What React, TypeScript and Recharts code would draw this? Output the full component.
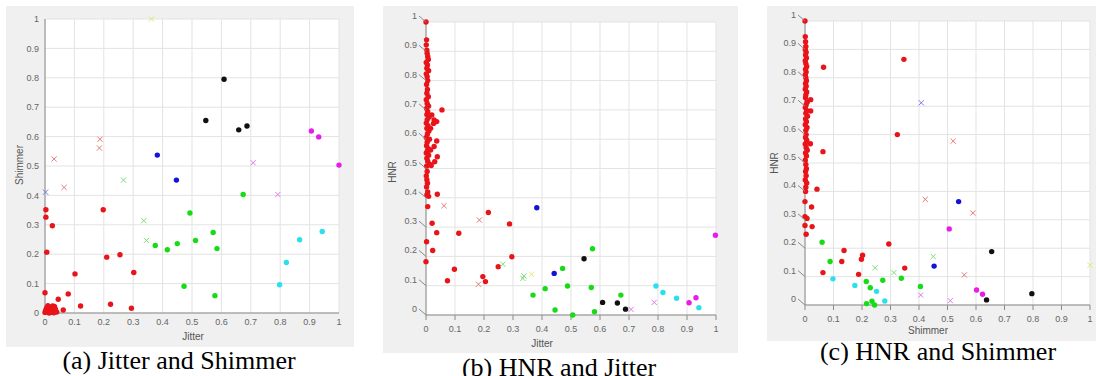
import React from 'react';
import { ScatterChart, Scatter, XAxis, YAxis, CartesianGrid } from 'recharts';

type Pt = [number, number];

// shared tick values for every axis
const axisTicks = [0, 0.1, 0.2, 0.3, 0.4, 0.5, 0.6, 0.7, 0.8, 0.9, 1];

// ---- (a) Jitter (x) vs Shimmer (y)
const aRedDots: Pt[] = [
  [0.003, 0.351], [0.003, 0.326], [0.025, 0.297], [0.006, 0.207], [0, 0.069], [0.102, 0.133],
  [0.079, 0.065], [0.045, 0.047], [0.121, 0.024], [0.223, 0.03], [0.062, 0.01], [0.198, 0.351],
  [0.21, 0.19], [0.255, 0.198], [0.302, 0.138], [0.294, 0.016],
  [0, 0.002], [0.004, 0.012], [0.008, 0.004], [0.012, 0.02], [0.016, 0.008], [0.02, 0.002],
  [0.024, 0.014], [0.028, 0.006], [0.032, 0.022], [0.036, 0.01], [0.04, 0.003], [0.01, 0.025],
  [0.006, 0.018], [0.018, 0.016], [0.03, 0.001], [0.002, 0.008], [0.014, 0], [0.026, 0.024],
  [0.034, 0.016], [0.022, 0.009],
];
const aRedX: Pt[] = [[0.031, 0.524], [0.065, 0.427], [0.185, 0.561], [0.187, 0.591]];
const aBlueX: Pt[] = [[0.002, 0.411]];
const aYellowX: Pt[] = [[0.362, 1.0]];
const aGreenX: Pt[] = [[0.267, 0.452], [0.336, 0.314], [0.345, 0.247]];
const aGreenDots: Pt[] = [
  [0.375, 0.23], [0.416, 0.215], [0.45, 0.236], [0.493, 0.34], [0.512, 0.247],
  [0.473, 0.091], [0.572, 0.274], [0.585, 0.219], [0.578, 0.059], [0.674, 0.403],
];
const aBlueDots: Pt[] = [[0.382, 0.537], [0.447, 0.452]];
const aBlackDots: Pt[] = [[0.547, 0.655], [0.609, 0.795], [0.659, 0.623], [0.687, 0.636]];
const aMagentaX: Pt[] = [[0.708, 0.511], [0.792, 0.403]];
const aMagentaDots: Pt[] = [[0.906, 0.619], [0.931, 0.599], [1.0, 0.503]];
const aCyanDots: Pt[] = [[0.798, 0.096], [0.821, 0.172], [0.866, 0.249], [0.943, 0.277]];

// ---- (b) Jitter (x) vs HNR (y)
const bRedDots: Pt[] = [
  [0, 1.0], [0.002, 0.939], [0.001, 0.922], [0.003, 0.904], [0.004, 0.893], [0.006, 0.882],
  [0.008, 0.872], [0.001, 0.862], [0.005, 0.853], [0.003, 0.842], [0.009, 0.834], [0.001, 0.823],
  [0.004, 0.813], [0.006, 0.8], [0.002, 0.787], [0.005, 0.77], [0.003, 0.757], [0.008, 0.745],
  [0.001, 0.735], [0.004, 0.722], [0.009, 0.713], [0.002, 0.705], [0.006, 0.694], [0.003, 0.684],
  [0.011, 0.676], [0.004, 0.666], [0.001, 0.655], [0.007, 0.646], [0.003, 0.637], [0.01, 0.628],
  [0.005, 0.618], [0.001, 0.606], [0.012, 0.6], [0.004, 0.59], [0.002, 0.578], [0.008, 0.568],
  [0.005, 0.56], [0.001, 0.553], [0.009, 0.545], [0.003, 0.535], [0.006, 0.525], [0.013, 0.515],
  [0.002, 0.508], [0.004, 0.49], [0.001, 0.475], [0.003, 0.462], [0.005, 0.45], [0.002, 0.437],
  [0.006, 0.42], [0.003, 0.41], [0.009, 0.405],
  [0.055, 0.7], [0.02, 0.683], [0.028, 0.666], [0.037, 0.66], [0.026, 0.654], [0.016, 0.637],
  [0.037, 0.594], [0.028, 0.575], [0.016, 0.563], [0.039, 0.54], [0.03, 0.523], [0.018, 0.51],
  [0.039, 0.412], [0.006, 0.37], [0.021, 0.313], [0.037, 0.281], [0.002, 0.25], [0.023, 0.22],
  [0, 0.182], [0.113, 0.279], [0.215, 0.35], [0.288, 0.311], [0.296, 0.199], [0.249, 0.165],
  [0.098, 0.156], [0.074, 0.117], [0.196, 0.131], [0.205, 0.114],
];
const bRedX: Pt[] = [[0.062, 0.373], [0.184, 0.324], [0.181, 0.105]];
const bGreenX: Pt[] = [[0.265, 0.173], [0.334, 0.125], [0.338, 0.133]];
const bYellowX: Pt[] = [[0.364, 0.139]];
const bBlueDots: Pt[] = [[0.382, 0.366], [0.442, 0.142]];
const bGreenDots: Pt[] = [
  [0.369, 0.068], [0.411, 0.09], [0.445, 0.017], [0.471, 0.159], [0.488, 0.099],
  [0.506, 0.0], [0.57, 0.094], [0.574, 0.226], [0.581, 0.011], [0.672, 0.068],
];
const bBlackDots: Pt[] = [[0.545, 0.192], [0.609, 0.043], [0.66, 0.041], [0.688, 0.02]];
const bMagentaX: Pt[] = [[0.707, 0.019], [0.787, 0.043]];
const bCyanDots: Pt[] = [[0.793, 0.099], [0.817, 0.077], [0.864, 0.057], [0.941, 0.025]];
const bMagentaDots: Pt[] = [[0.907, 0.042], [0.931, 0.059], [0.998, 0.272]];

// ---- (c) Shimmer (x) vs HNR (y)
const cRedDots: Pt[] = [
  [0, 1.0], [0.001, 0.945], [0.002, 0.927], [0.003, 0.91], [0.001, 0.9], [0.004, 0.89],
  [0.002, 0.88], [0.005, 0.87], [0.001, 0.86], [0.003, 0.85], [0.006, 0.84], [0.002, 0.83],
  [0.004, 0.82], [0.001, 0.81], [0.003, 0.8], [0.005, 0.79], [0.002, 0.78], [0.004, 0.77],
  [0.001, 0.76], [0.006, 0.75], [0.003, 0.74], [0.002, 0.73], [0.008, 0.715], [0.004, 0.705],
  [0.001, 0.695], [0.006, 0.685], [0.003, 0.675], [0.009, 0.665], [0.002, 0.655], [0.005, 0.645],
  [0.001, 0.635], [0.007, 0.625], [0.003, 0.615], [0.004, 0.6], [0.002, 0.59], [0.006, 0.58],
  [0.001, 0.567], [0.004, 0.555], [0.008, 0.545], [0.002, 0.535], [0.005, 0.525], [0.001, 0.51],
  [0.003, 0.495], [0.005, 0.48], [0.002, 0.47], [0.004, 0.455], [0.001, 0.44], [0.006, 0.43],
  [0.003, 0.415], [0.002, 0.4],
  [0.347, 0.865], [0.065, 0.837], [0.324, 0.6], [0.063, 0.54], [0.02, 0.723], [0.02, 0.683],
  [0.019, 0.568], [0.042, 0.408], [0, 0.364], [0.023, 0.345], [0, 0.311], [0.007, 0.305],
  [0.025, 0.276], [0, 0.28], [0.004, 0.249], [0.294, 0.215], [0.137, 0.192], [0.129, 0.153],
  [0.202, 0.175], [0.198, 0.161], [0.188, 0.108], [0.063, 0.114], [0.35, 0.13],
];
const cGreenDots: Pt[] = [
  [0.06, 0.221], [0.088, 0.153], [0.215, 0.083], [0.229, 0.061], [0.273, 0.087],
  [0.338, 0.094], [0.405, 0.065], [0.216, 0.005], [0.235, 0.013], [0.244, 0],
];
const cCyanDots: Pt[] = [[0.098, 0.092], [0.175, 0.069], [0.251, 0.048], [0.28, 0.014]];
const cGreenX: Pt[] = [[0.246, 0.131], [0.312, 0.114], [0.45, 0.171]];
const cBlueX: Pt[] = [[0.408, 0.712]];
const cRedX: Pt[] = [[0.52, 0.577], [0.422, 0.372], [0.589, 0.324], [0.559, 0.106]];
const cBlueDots: Pt[] = [[0.539, 0.364], [0.453, 0.137]];
const cMagentaDots: Pt[] = [[0.506, 0.268], [0.602, 0.053], [0.623, 0.038]];
const cMagentaX: Pt[] = [[0.406, 0.035], [0.51, 0.015]];
const cBlackDots: Pt[] = [[0.655, 0.188], [0.637, 0.018], [0.796, 0.04]];
const cYellowX: Pt[] = [[1.0, 0.14]];

const RED = '#e8141a';
const GREEN = '#16dc16';
const BLUE = '#1414d8';
const BLACK = '#101010';
const MAGENTA = '#e81ce8';
const CYAN = '#2ae0ee';
const RED_X = '#e47a7a';
const GREEN_X = '#7ade7a';
const BLUE_X = '#7a7ae0';
const MAGENTA_X = '#e07ae6';
const YELLOW_X = '#e6e672';

type Kind = 'dot' | 'x';
interface Series { pts: Pt[]; color: string; kind: Kind }

const seriesA: Series[] = [
  { pts: aRedDots, color: RED, kind: 'dot' },
  { pts: aRedX, color: RED_X, kind: 'x' },
  { pts: aBlueX, color: BLUE_X, kind: 'x' },
  { pts: aYellowX, color: YELLOW_X, kind: 'x' },
  { pts: aGreenX, color: GREEN_X, kind: 'x' },
  { pts: aGreenDots, color: GREEN, kind: 'dot' },
  { pts: aBlueDots, color: BLUE, kind: 'dot' },
  { pts: aBlackDots, color: BLACK, kind: 'dot' },
  { pts: aMagentaX, color: MAGENTA_X, kind: 'x' },
  { pts: aMagentaDots, color: MAGENTA, kind: 'dot' },
  { pts: aCyanDots, color: CYAN, kind: 'dot' },
];
const seriesB: Series[] = [
  { pts: bRedDots, color: RED, kind: 'dot' },
  { pts: bRedX, color: RED_X, kind: 'x' },
  { pts: bGreenX, color: GREEN_X, kind: 'x' },
  { pts: bYellowX, color: YELLOW_X, kind: 'x' },
  { pts: bBlueDots, color: BLUE, kind: 'dot' },
  { pts: bGreenDots, color: GREEN, kind: 'dot' },
  { pts: bBlackDots, color: BLACK, kind: 'dot' },
  { pts: bMagentaX, color: MAGENTA_X, kind: 'x' },
  { pts: bCyanDots, color: CYAN, kind: 'dot' },
  { pts: bMagentaDots, color: MAGENTA, kind: 'dot' },
];
const seriesC: Series[] = [
  { pts: cRedDots, color: RED, kind: 'dot' },
  { pts: cGreenDots, color: GREEN, kind: 'dot' },
  { pts: cCyanDots, color: CYAN, kind: 'dot' },
  { pts: cGreenX, color: GREEN_X, kind: 'x' },
  { pts: cBlueX, color: BLUE_X, kind: 'x' },
  { pts: cRedX, color: RED_X, kind: 'x' },
  { pts: cBlueDots, color: BLUE, kind: 'dot' },
  { pts: cMagentaDots, color: MAGENTA, kind: 'dot' },
  { pts: cMagentaX, color: MAGENTA_X, kind: 'x' },
  { pts: cBlackDots, color: BLACK, kind: 'dot' },
  { pts: cYellowX, color: YELLOW_X, kind: 'x' },
];

const fmt = (v: number) => String(Number(v.toFixed(1)));
const tickFont = { fontSize: 9, fill: '#666', fontFamily: 'Liberation Sans, Arial, sans-serif' };

const makeShape = (color: string, kind: Kind) => (p: any) => {
  const { cx, cy } = p;
  if (kind === 'dot') return <circle cx={cx} cy={cy} r={2.7} fill={color} />;
  const s = 2.6;
  return (
    <path
      d={`M${cx - s},${cy - s}L${cx + s},${cy + s}M${cx - s},${cy + s}L${cx + s},${cy - s}`}
      stroke={color}
      strokeWidth={1}
      fill="none"
    />
  );
};

// y tick drawn like the tilted 3-D axis in (b) and (c)
const SlantTick = (p: any) => {
  const { x, y, payload } = p;
  return (
    <g>
      <line x1={x - 7} y1={y - 6} x2={x} y2={y} stroke="#8a8a8a" strokeWidth={1} />
      <text x={x - 9} y={y - 6} textAnchor="end" dominantBaseline="central" {...tickFont}>
        {fmt(payload.value)}
      </text>
    </g>
  );
};

interface PanelProps {
  left: number;
  top: number;
  width: number;
  height: number;
  margin: { top: number; right: number; bottom: number; left: number };
  series: Series[];
  slanted: boolean;
}

const Panel: React.FC<PanelProps> = ({ left, top, width, height, margin, series, slanted }) => (
  <div style={{ position: 'absolute', left, top, width, height, background: '#f0f0f0' }}>
    <ScatterChart width={width} height={height} margin={margin}>
      <CartesianGrid stroke="#e3e3e3" fill="#ffffff" />
      <XAxis
        type="number"
        dataKey="x"
        domain={[0, 1]}
        ticks={axisTicks}
        height={30}
        tickFormatter={fmt}
        tick={tickFont}
        tickSize={slanted ? 5 : 0}
        tickMargin={6}
        tickLine={slanted ? { stroke: '#8a8a8a' } : false}
        axisLine={{ stroke: '#8a8a8a' }}
      />
      <YAxis
        type="number"
        dataKey="y"
        domain={[0, 1]}
        ticks={axisTicks}
        width={30}
        tickFormatter={fmt}
        tick={slanted ? <SlantTick /> : tickFont}
        tickSize={0}
        tickMargin={slanted ? 0 : 6}
        tickLine={false}
        axisLine={{ stroke: '#8a8a8a' }}
      />
      {series.map((s, i) => (
        <Scatter
          key={i}
          data={s.pts.map(([x, y]) => ({ x, y }))}
          fill={s.color}
          shape={makeShape(s.color, s.kind)}
          isAnimationActive={false}
        />
      ))}
    </ScatterChart>
  </div>
);

const axisTitle = (text: string, x: number, y: number, rotate = false) => (
  <div
    style={{
      position: 'absolute',
      left: x,
      top: y,
      transform: `translate(-50%, -50%)${rotate ? ' rotate(-90deg)' : ''}`,
      fontFamily: 'Liberation Sans, Arial, sans-serif',
      fontSize: 10,
      color: '#555',
      whiteSpace: 'nowrap',
      lineHeight: 1,
    }}
  >
    {text}
  </div>
);

const caption = (text: string, x: number, y: number) => (
  <div
    style={{
      position: 'absolute',
      left: x,
      top: y,
      transform: 'translate(-50%, -50%)',
      fontFamily: 'Liberation Serif, Times New Roman, serif',
      fontSize: 26,
      color: '#000',
      whiteSpace: 'nowrap',
      lineHeight: 0.8,
    }}
  >
    {text}
  </div>
);

export default function App() {
  return (
    <div
      style={{
        position: 'absolute',
        left: 0,
        top: 0,
        width: 1096,
        height: 376,
        background: '#fff',
        overflow: 'hidden',
      }}
    >
      <Panel
        left={6}
        top={6}
        width={348}
        height={341}
        margin={{ top: 13, right: 15, bottom: 4, left: 9 }}
        series={seriesA}
        slanted={false}
      />
      {axisTitle('Shimmer', 20, 165, true)}
      {axisTitle('Jitter', 193, 337)}
      {caption('(a) Jitter and Shimmer', 179, 361)}

      <Panel
        left={383}
        top={6}
        width={355}
        height={347}
        margin={{ top: 16, right: 22, bottom: 8, left: 13 }}
        series={seriesB}
        slanted
      />
      {axisTitle('HNR', 393, 172, true)}
      {axisTitle('Jitter', 542, 344)}
      {caption('(b) HNR and Jitter', 559, 368)}

      <Panel
        left={767}
        top={6}
        width={329}
        height={335}
        margin={{ top: 15, right: 6, bottom: 6, left: 8 }}
        series={seriesC}
        slanted
      />
      {axisTitle('HNR', 775, 163, true)}
      {axisTitle('Shimmer', 928, 331)}
      {caption('(c) HNR and Shimmer', 938, 352)}
    </div>
  );
}
